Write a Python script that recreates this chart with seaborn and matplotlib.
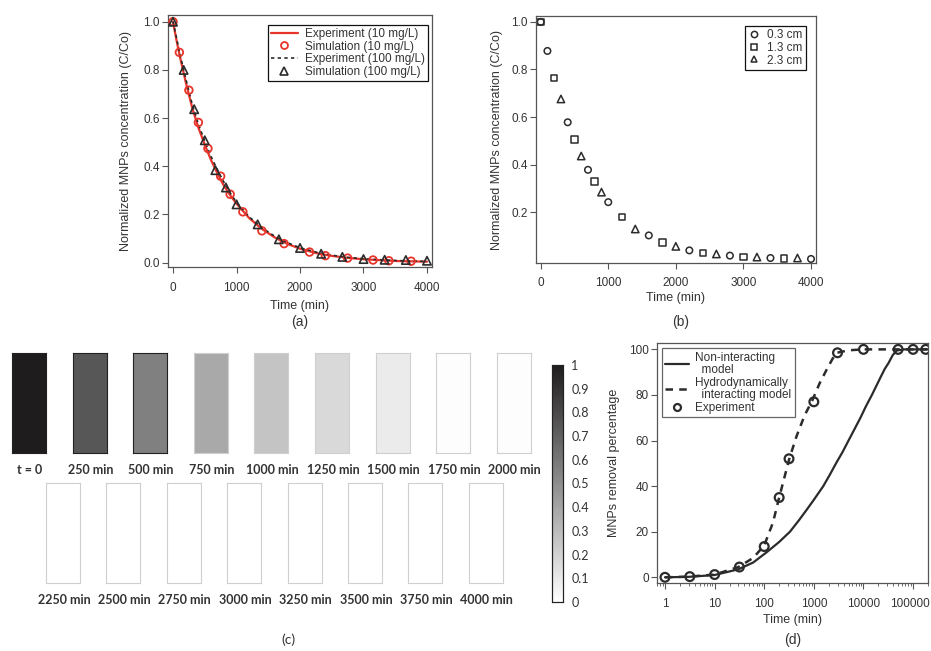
import numpy as np
import pandas as pd
import matplotlib
matplotlib.use('Agg')
import matplotlib.pyplot as plt
import matplotlib.transforms as mtransforms
import seaborn as sns
from matplotlib.lines import Line2D
from matplotlib.colors import LinearSegmentedColormap
from matplotlib.ticker import FixedLocator, LogLocator, NullFormatter, FormatStrFormatter

# ---------------------------------- data ----------------------------------------
# (a) 10 mg/L vs 100 mg/L
exp10_t = [0, 50, 100, 200, 300, 400, 500, 600, 700, 800, 900, 1000, 1200, 1400, 1600,
           1800, 2000, 2250, 2500, 2750, 3000, 3500, 4000]
exp10_c = [1.0, 0.93, 0.865, 0.75, 0.645, 0.56, 0.49, 0.425, 0.37, 0.32, 0.28, 0.245, 0.185,
           0.14, 0.105, 0.078, 0.058, 0.04, 0.028, 0.02, 0.014, 0.007, 0.004]
sim10_t = [0, 100, 250, 400, 550, 750, 900, 1100, 1400, 1750, 2150, 2400, 2750, 3150, 3400, 3750]
sim10_c = [1.0, 0.873, 0.716, 0.582, 0.474, 0.359, 0.284, 0.211, 0.132, 0.079, 0.044, 0.029,
           0.019, 0.011, 0.008, 0.006]
exp100_t = exp10_t
exp100_c = [1.0, 0.94, 0.875, 0.765, 0.66, 0.575, 0.505, 0.44, 0.385, 0.335, 0.29, 0.25, 0.19,
            0.145, 0.11, 0.083, 0.062, 0.044, 0.031, 0.022, 0.016, 0.009, 0.005]
sim100_t = [0, 167, 333, 500, 667, 833, 1000, 1333, 1667, 2000, 2333, 2667, 3000, 3333, 3667, 4000]
sim100_c = [1.0, 0.80, 0.637, 0.508, 0.384, 0.312, 0.242, 0.159, 0.097, 0.061, 0.037, 0.024,
            0.015, 0.012, 0.011, 0.008]

# (b) sampling heights
h03_t = [0, 100, 400, 700, 1000, 1600, 2200, 2800, 3400, 4000]
h03_c = [1.0, 0.878, 0.578, 0.378, 0.242, 0.102, 0.039, 0.017, 0.007, 0.003]
h13_t = [0, 200, 500, 800, 1200, 1800, 2400, 3000, 3600]
h13_c = [1.0, 0.765, 0.506, 0.329, 0.179, 0.073, 0.028, 0.011, 0.004]
h23_t = [300, 600, 900, 1400, 2000, 2600, 3200, 3800]
h23_c = [0.676, 0.436, 0.284, 0.129, 0.056, 0.024, 0.011, 0.007]

# (c) snapshots
tile_labels = ['t = 0', '250 min', '500 min', '750 min', '1000 min', '1250 min', '1500 min',
               '1750 min', '2000 min', '2250 min', '2500 min', '2750 min', '3000 min',
               '3250 min', '3500 min', '3750 min', '4000 min']
tile_values = [1.0, 0.74, 0.56, 0.38, 0.26, 0.17, 0.09, 0.01, 0.008, 0.0, 0.0, 0.0, 0.0,
               0.0, 0.0, 0.0, 0.0]
cbar_ticks = [0, 0.1, 0.2, 0.3, 0.4, 0.5, 0.6, 0.7, 0.8, 0.9, 1]
cbar_labels = ['0', '0.1', '0.2', '0.3', '0.4', '0.5', '0.6', '0.7', '0.8', '0.9', '1']

# (d) removal percentage
nonint_t = [1, 3, 10, 30, 60, 112, 200, 330, 500, 710, 1000, 1550, 2100, 2800, 3800, 5000,
            6600, 8700, 11200, 14800, 18200, 22400, 27000, 32000, 39000, 47000, 65000, 200000]
nonint_p = [0, 0.2, 1, 3.5, 6.5, 11, 15.5, 20, 25, 29.5, 34, 40, 45, 50, 55, 60,
            65, 70, 75, 80, 84, 88, 91.5, 94, 97.5, 99.5, 100, 100]
hydro_t = [1, 3, 10, 30, 60, 100, 150, 200, 320, 450, 650, 950, 1300, 1800, 2400, 2900,
           5000, 9800, 200000]
hydro_p = [0, 0.3, 1.2, 4.5, 8.5, 14, 24, 35, 52, 62, 71, 78, 85, 91, 96, 98.5,
           99.6, 100, 100]
expd_t = [1, 3.16, 10, 31.6, 100, 200, 316, 1000, 3000, 10000, 50000, 100000, 180000]
expd_p = [0, 0.3, 1.2, 4.5, 13.5, 35, 52, 77, 98.5, 100, 100, 100, 100]

# ---------------------------------- style ---------------------------------------
sns.set_theme(style='ticks')
plt.rcParams['font.family'] = ['Liberation Sans', 'DejaVu Sans']
plt.rcParams['axes.edgecolor'] = '#555555'
plt.rcParams['axes.linewidth'] = 0.9
TXT = '#333333'
RED = '#e8352c'
DARK = '#2b2b2b'

W, H = 931, 651
fig = plt.figure(figsize=(W / 100, H / 100), dpi=100)


def box(l, t, r, b):
    return [l / W, 1 - b / H, (r - l) / W, (b - t) / H]


def style_axis(ax, xpad=6):
    ax.tick_params(direction='out', length=4, width=0.8, color='#555555',
                   labelsize=8.5, labelcolor=TXT, pad=2)
    ax.tick_params(axis='x', pad=xpad)
    for s in ax.spines.values():
        s.set_visible(True)
        s.set_color('#555555')


def small_legend(ax, handles, labels, edge, **kw):
    leg = ax.legend(handles, labels, borderaxespad=0, fontsize=8.5, frameon=True,
                    fancybox=False, framealpha=1, edgecolor=edge, **kw)
    leg.get_frame().set_linewidth(0.9)
    for t in leg.get_texts():
        t.set_color(TXT)
    return leg


# ---------------------------------- (a) -----------------------------------------
ax_a = fig.add_axes(box(168, 15, 432, 267))
df_e10 = pd.DataFrame({'t': exp10_t, 'c': exp10_c})
df_e100 = pd.DataFrame({'t': exp100_t, 'c': exp100_c})
sns.lineplot(data=df_e10, x='t', y='c', color=RED, lw=1.6, ax=ax_a)
sns.lineplot(data=df_e100, x='t', y='c', color=DARK, lw=1.2, ls=(0, (2, 2)), ax=ax_a)
sns.scatterplot(x=sim10_t, y=sim10_c, marker='o', s=30, facecolor='none', edgecolor=RED,
                linewidth=1.3, ax=ax_a, zorder=3)
sns.scatterplot(x=sim100_t, y=sim100_c, marker='^', s=36, facecolor='none', edgecolor=DARK,
                linewidth=1.2, ax=ax_a, zorder=3)
ax_a.set_xlim(-79, 4079)
ax_a.set_ylim(-0.018, 1.028)
ax_a.set_xticks([0, 1000, 2000, 3000, 4000])
ax_a.set_yticks([0, 0.2, 0.4, 0.6, 0.8, 1.0])
ax_a.yaxis.set_major_formatter(FormatStrFormatter('%.1f'))
style_axis(ax_a, xpad=7)
ax_a.set_xlabel('Time (min)', fontsize=9, color=TXT, labelpad=4)
ax_a.set_ylabel('Normalized MNPs concentration (C/Co)', fontsize=9, color=TXT, labelpad=8)
h_a = [Line2D([], [], color=RED, lw=1.6),
       Line2D([], [], color=RED, marker='o', ls='', mfc='none', mew=1.3, ms=5),
       Line2D([], [], color=DARK, lw=1.2, ls=(0, (2, 2))),
       Line2D([], [], color=DARK, marker='^', ls='', mfc='none', mew=1.2, ms=5.5)]
small_legend(ax_a, h_a, ['Experiment (10 mg/L)', 'Simulation (10 mg/L)',
                         'Experiment (100 mg/L)', 'Simulation (100 mg/L)'], '#111111',
             loc='upper right', bbox_to_anchor=(0.985, 0.96), handlelength=2.3,
             handletextpad=0.6, labelspacing=0.05, borderpad=0.25)

# ---------------------------------- (b) -----------------------------------------
ax_b = fig.add_axes(box(536, 16, 816, 263))
mk = dict(facecolor='none', edgecolor=DARK, linewidth=1.1, ax=ax_b)
sns.scatterplot(x=h03_t, y=h03_c, marker='o', s=22, **mk)
sns.scatterplot(x=h13_t, y=h13_c, marker='s', s=22, **mk)
sns.scatterplot(x=h23_t, y=h23_c, marker='^', s=28, **mk)
ax_b.set_xlim(-69, 4074)
ax_b.set_ylim(-0.014, 1.025)
ax_b.set_xticks([0, 1000, 2000, 3000, 4000])
ax_b.set_yticks([0.2, 0.4, 0.6, 0.8, 1.0])
ax_b.yaxis.set_major_formatter(FormatStrFormatter('%.1f'))
style_axis(ax_b, xpad=6)
ax_b.set_xlabel('Time (min)', fontsize=9, color=TXT, labelpad=2)
ax_b.set_ylabel('Normalized MNPs concentration (C/Co)', fontsize=9, color=TXT, labelpad=6)
h_b = [Line2D([], [], color=DARK, marker=m, ls='', mfc='none', mew=1.1, ms=ms)
       for m, ms in [('o', 4.5), ('s', 4.5), ('^', 5)]]
small_legend(ax_b, h_b, ['0.3 cm', '1.3 cm', '2.3 cm'], '#111111', loc='upper right',
             bbox_to_anchor=(0.964, 0.96), handlelength=1.0, handletextpad=0.6,
             labelspacing=0.05, borderpad=0.3)

# ---------------------------------- (c) -----------------------------------------
cmap = LinearSegmentedColormap.from_list('conc', ['#ffffff', '#1e1c1d'])
cax = fig.add_axes(box(552, 365, 563, 602))
n_top = 9
for i, (lab, val) in enumerate(zip(tile_labels, tile_values)):
    if i < n_top:
        l = 12 + i * 60.6
        t = 353
    else:
        l = 46 + (i - n_top) * 60.4
        t = 483
    tax = fig.add_axes(box(l, t, l + 34, t + 100))
    last = i == len(tile_values) - 1
    sns.heatmap(np.array([[val]]), cmap=cmap, vmin=0, vmax=1, ax=tax,
                cbar=last, cbar_ax=cax if last else None,
                cbar_kws={'ticks': cbar_ticks} if last else None,
                xticklabels=False, yticklabels=False)
    for s in tax.spines.values():
        s.set_visible(True)
        s.set_color('#cfcfcf' if val < 0.5 else '#222222')
        s.set_linewidth(0.8)
    fig.text((l + 18) / W, 1 - (t + 117) / H, lab, ha='center', va='center',
             fontsize=9, fontweight='bold', family='Lato', color=TXT)

cax.set_yticklabels(cbar_labels)
cax.tick_params(labelsize=9, labelcolor=TXT, length=2, width=0.6, color='#444444',
                direction='in', pad=6)
for lb in cax.get_yticklabels():
    lb.set_family('Lato')
for s in cax.spines.values():
    s.set_visible(True)
    s.set_color('#222222')
    s.set_linewidth(0.8)

# ---------------------------------- (d) -----------------------------------------
ax_d = fig.add_axes(box(657, 343, 928, 583))
sns.lineplot(x=nonint_t, y=nonint_p, color=DARK, lw=1.6, ax=ax_d)
sns.lineplot(x=hydro_t, y=hydro_p, color=DARK, lw=1.8, ls=(0, (3, 2.5)), ax=ax_d)
sns.scatterplot(x=expd_t, y=expd_p, marker='o', s=40, facecolor='none', edgecolor=DARK,
                linewidth=1.6, ax=ax_d, zorder=3)
ax_d.set_xscale('log')
ax_d.set_xlim(0.69, 2.0e5)
ax_d.set_ylim(-2.5, 102.8)
ax_d.xaxis.set_major_locator(FixedLocator([1, 10, 100, 1000, 10000, 100000]))
ax_d.set_xticklabels(['1', '10', '100', '1000', '10000', '100000'])
ax_d.xaxis.set_minor_locator(LogLocator(base=10, subs=np.arange(2, 10)))
ax_d.xaxis.set_minor_formatter(NullFormatter())
ax_d.set_yticks([0, 20, 40, 60, 80, 100])
style_axis(ax_d, xpad=7)
ax_d.tick_params(axis='x', which='minor', direction='out', length=2.5, width=0.6,
                 color='#555555')
# the last label sits against the figure edge: nudge it inwards a little
lbl = ax_d.get_xticklabels()[-1]
lbl.set_transform(lbl.get_transform() + mtransforms.ScaledTranslation(-3 / 100, 0, fig.dpi_scale_trans))
ax_d.set_xlabel('Time (min)', fontsize=9, color=TXT, labelpad=3)
ax_d.set_ylabel('MNPs removal percentage', fontsize=9, color=TXT, labelpad=6)
h_d = [Line2D([], [], color=DARK, lw=1.6),
       Line2D([], [], color=DARK, lw=1.8, ls=(0, (3, 2.5))),
       Line2D([], [], color=DARK, marker='o', ls='', mfc='none', mew=1.6, ms=5)]
leg = small_legend(ax_d, h_d, ['Non-interacting\n  model', 'Hydrodynamically\n  interacting model',
                               'Experiment'], '#666666',
                   loc='upper left', bbox_to_anchor=(0.018, 0.979), handlelength=2.0,
                   handletextpad=0.5, labelspacing=0.1, borderpad=0.3)
for t in leg.get_texts():
    t.set_linespacing(1.0)

# ---------------------------------- panel tags ----------------------------------
for x, y, s in [(300, 322, '(a)'), (681, 322, '(b)'), (793, 640, '(d)')]:
    fig.text(x / W, 1 - y / H, s, ha='center', va='center', fontsize=10, color=TXT)
fig.text(288 / W, 1 - 640 / H, '(c)', ha='center', va='center', fontsize=10,
         family='Lato', color=TXT)

fig.savefig('out.png', dpi=100)
